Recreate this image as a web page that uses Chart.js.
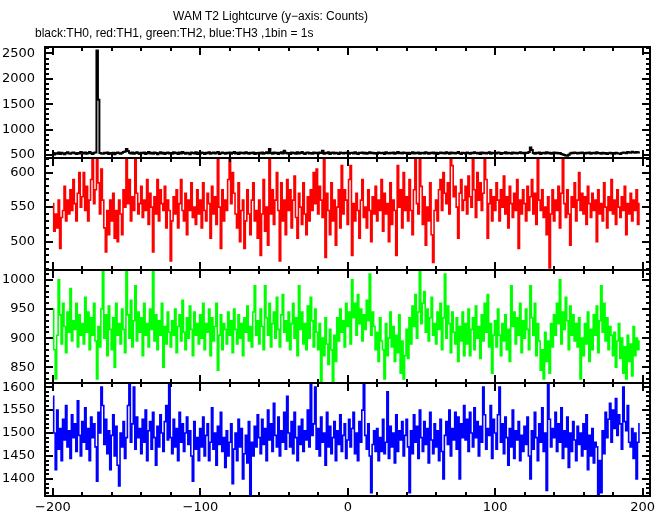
<!DOCTYPE html>
<html>
<head>
<meta charset="utf-8">
<script src="https://cdn.jsdelivr.net/npm/chart.js@4.4.1/dist/chart.umd.min.js"></script>
<style>
    body { margin: 0; background: #fff; }
    #wrap { position: relative; width: 669px; height: 515px; }
    #lc { position: absolute; left: 0; top: 0; }
    .t { position: absolute; font: 12px/12px "Liberation Sans", Arial, sans-serif; white-space: nowrap; color: #000; }
</style>
</head>
<body>
<div id="wrap">
    <canvas id="lc" width="669" height="515"></canvas>
    <div class="t" style="left:173px; top:10px;">WAM T2 Lightcurve (y−axis: Counts)</div>
    <div class="t" style="left:35px; top:27px;">black:TH0, red:TH1, green:TH2, blue:TH3 ,1bin = 1s</div>
</div>
<script>
// 1 bin = 1 s, first bin at t = -200 s
const binStart = -200;

const th0 = [
    540, 510, 535, 525, 550, 520, 545, 530, 515, 540, 555, 530, 525, 545, 550, 535, 520, 540, 530, 560,
    545, 530, 550, 525, 540, 560, 535, 520, 545, 550, 2560, 1590, 540, 530, 525, 545, 535, 550, 520, 540,
    530, 545, 515, 540, 550, 535, 525, 545, 560, 570, 620, 580, 545, 530, 550, 525, 540, 555, 535, 520,
    545, 535, 550, 520, 540, 560, 530, 545, 525, 550, 540, 515, 535, 555, 530, 545, 520, 540, 550, 530,
    540, 525, 555, 535, 545, 520, 550, 530, 560, 540, 525, 545, 535, 515, 550, 540, 530, 555, 520, 545,
    530, 550, 540, 520, 545, 535, 555, 525, 540, 550, 530, 545, 560, 520, 535, 550, 540, 525, 545, 535,
    550, 525, 540, 560, 530, 545, 520, 550, 535, 545, 530, 555, 540, 525, 545, 535, 550, 520, 540, 530,
    545, 530, 550, 525, 540, 555, 535, 620, 540, 525, 550, 535, 545, 520, 540, 555, 530, 585, 545, 530,
    540, 520, 550, 535, 545, 525, 555, 530, 540, 560, 535, 520, 545, 550, 530, 540, 525, 550, 535, 545,
    530, 550, 540, 585, 525, 545, 535, 555, 520, 540, 550, 530, 545, 535, 520, 550, 540, 530, 545, 535,
    550, 525, 540, 545, 530, 555, 535, 520, 545, 540, 550, 530, 545, 525, 540, 555, 535, 545, 530, 540,
    525, 550, 540, 535, 545, 520, 555, 540, 530, 545, 535, 550, 525, 540, 560, 535, 545, 530, 550, 540,
    535, 545, 520, 540, 555, 530, 545, 535, 550, 525, 540, 545, 530, 555, 540, 525, 545, 535, 550, 530,
    545, 520, 540, 550, 535, 545, 530, 555, 540, 525, 550, 535, 545, 530, 540, 560, 535, 520, 545, 540,
    530, 550, 540, 525, 545, 535, 555, 540, 530, 545, 520, 550, 535, 545, 530, 540, 555, 525, 545, 535,
    540, 530, 550, 545, 520, 540, 535, 555, 530, 545, 540, 525, 550, 535, 545, 530, 540, 555, 535, 545,
    530, 545, 540, 560, 650, 600, 540, 525, 545, 535, 550, 520, 540, 545, 530, 555, 535, 545, 525, 540,
    550, 535, 545, 530, 540, 520, 510, 500, 490, 485, 505, 530, 545, 535, 550, 540, 530, 545, 535, 550,
    540, 530, 545, 535, 550, 525, 540, 545, 530, 555, 535, 540, 525, 545, 530, 540, 520, 535, 545, 530,
    540, 525, 545, 535, 530, 520, 540, 550, 545, 535, 560, 550, 545, 565, 555, 545, 560, 550, 555
];

const th1 = [
    555, 515, 540, 520, 560, 490, 535, 545, 580, 530, 560, 540, 575, 545, 590, 555, 530, 570, 600, 550,
    565, 600, 545, 580, 530, 560, 590, 620, 555, 575, 620, 585, 540, 605, 560, 520, 485, 545, 510, 560,
    530, 570, 505, 545, 500, 560, 540, 510, 575, 550, 620, 555, 590, 530, 565, 545, 620, 570, 540, 555,
    580, 535, 560, 545, 590, 525, 570, 550, 485, 565, 540, 590, 530, 575, 555, 545, 580, 520, 560, 545,
    472, 530, 565, 540, 575, 520, 555, 590, 545, 530, 570, 510, 560, 545, 585, 535, 550, 525, 575, 540,
    560, 520, 585, 545, 530, 570, 555, 505, 580, 540, 565, 525, 620, 550, 490, 575, 530, 560, 545, 590,
    620, 555, 600, 570, 540, 520, 585, 500, 545, 560, 490, 530, 575, 540, 510, 560, 585, 530, 545, 505,
    560, 480, 540, 590, 515, 550, 495, 620, 540, 575, 525, 560, 600, 545, 472, 585, 530, 560, 510, 590,
    545, 575, 520, 560, 595, 535, 505, 570, 550, 525, 585, 540, 510, 565, 530, 575, 545, 600, 555, 605,
    540, 580, 560, 535, 620, 477, 570, 545, 510, 585, 530, 560, 495, 550, 575, 520, 610, 540, 575, 560,
    525, 590, 610, 480, 555, 530, 570, 545, 505, 560, 590, 535, 550, 520, 575, 545, 500, 565, 540, 580,
    530, 560, 545, 590, 515, 570, 540, 555, 500, 585, 525, 560, 545, 480, 610, 550, 575, 520, 600, 545,
    565, 530, 590, 545, 510, 575, 620, 555, 540, 620, 580, 525, 565, 495, 550, 530, 585, 510, 470, 545,
    560, 530, 575, 590, 545, 600, 570, 555, 585, 540, 620, 610, 565, 580, 550, 505, 570, 590, 545, 560,
    580, 540, 595, 565, 550, 620, 575, 535, 600, 560, 585, 545, 570, 620, 590, 505, 555, 575, 530, 565,
    545, 585, 560, 530, 575, 550, 595, 540, 565, 520, 580, 555, 535, 570, 545, 590, 490, 560, 540, 575,
    555, 530, 580, 545, 565, 590, 540, 570, 525, 620, 560, 545, 575, 535, 550, 510, 565, 462, 540, 575,
    530, 560, 545, 580, 520, 570, 620, 555, 535, 575, 540, 495, 565, 550, 585, 530, 560, 600, 545, 570,
    540, 565, 525, 580, 555, 535, 570, 545, 560, 500, 575, 540, 555, 530, 585, 550, 520, 565, 545, 590,
    540, 560, 525, 575, 550, 535, 565, 545, 580, 510, 555, 540, 570, 530, 560, 545, 575, 525, 555
];

const th2 = [
    950, 880, 830, 905, 1000, 940, 890, 960, 920, 875, 945, 910, 985, 895, 930, 915, 960, 885, 940, 905,
    925, 890, 970, 910, 945, 880, 935, 905, 960, 895, 830, 920, 885, 950, 1015, 900, 940, 870, 955, 915,
    880, 935, 850, 960, 905, 925, 890, 950, 915, 875, 1015, 940, 900, 965, 885, 930, 990, 895, 945, 910,
    935, 870, 960, 905, 925, 885, 950, 915, 1015, 895, 940, 880, 930, 905, 960, 850, 920, 890, 945, 910,
    885, 930, 905, 950, 875, 920, 940, 895, 965, 910, 880, 935, 900, 955, 915, 870, 945, 905, 925, 890,
    940, 900, 960, 880, 925, 910, 950, 870, 935, 895, 920, 960, 845, 905, 940, 880, 925, 915, 890, 945,
    905, 930, 875, 950, 915, 890, 940, 900, 925, 870, 935, 910, 955, 895, 920, 885, 945, 990, 905, 930,
    890, 950, 920, 880, 990, 935, 905, 960, 885, 925, 945, 900, 970, 915, 885, 940, 975, 910, 930, 895,
    945, 880, 925, 960, 900, 935, 870, 990, 915, 945, 890, 925, 880, 955, 900, 970, 930, 885, 950, 910,
    880, 925, 825, 900, 870, 935, 890, 855, 915, 880, 825, 905, 860, 935, 895, 950, 910, 930, 885, 960,
    920, 945, 890, 1000, 935, 960, 905, 975, 925, 950, 895, 940, 915, 965, 930, 1010, 905, 945, 920, 880,
    910, 860, 935, 895, 880, 830, 925, 870, 900, 945, 885, 920, 860, 905, 875, 940, 840, 895, 830, 870,
    915, 865, 935, 890, 955, 920, 975, 900, 945, 1015, 925, 960, 980, 910, 950, 895, 935, 970, 905, 925,
    890, 945, 915, 960, 880, 935, 1010, 900, 955, 925, 875, 945, 910, 890, 935, 860, 920, 895, 945, 870,
    925, 890, 950, 870, 915, 935, 880, 955, 900, 920, 865, 940, 895, 960, 910, 975, 885, 925, 840, 905,
    930, 885, 950, 905, 870, 925, 895, 940, 880, 915, 860, 990, 920, 945, 890, 935, 905, 960, 875, 930,
    900, 950, 915, 880, 990, 935, 905, 960, 870, 925, 895, 845, 880, 830, 910, 860, 895, 840, 925, 885,
    940, 905, 960, 925, 1000, 890, 945, 915, 970, 930, 880, 955, 905, 940, 895, 925, 885, 935, 830, 900,
    870, 925, 890, 945, 860, 915, 880, 940, 905, 955, 875, 930, 990, 910, 960, 895, 935, 880, 920, 905,
    870, 910, 850, 895, 925, 865, 900, 840, 885, 830, 905, 860, 890, 835, 920, 870, 900, 880, 895
];

const th3 = [
    1580, 1500, 1420, 1550, 1465, 1510, 1440, 1530, 1485, 1560, 1470, 1505, 1445, 1540, 1490, 1520, 1460, 1570, 1495, 1450,
    1525, 1480, 1555, 1465, 1510, 1440, 1535, 1490, 1520, 1470, 1395, 1545, 1500, 1600, 1560, 1475, 1530, 1455, 1505, 1420,
    1495, 1540, 1450, 1515, 1430, 1385, 1500, 1470, 1525, 1445, 1490, 1560, 1605, 1480, 1520, 1600, 1465, 1535, 1490, 1510,
    1455, 1530, 1480, 1550, 1440, 1505, 1525, 1465, 1545, 1490, 1430, 1515, 1470, 1540, 1500, 1460, 1525, 1560, 1485, 1605,
    1490, 1455, 1530, 1470, 1510, 1440, 1545, 1480, 1520, 1460, 1500, 1535, 1475, 1505, 1450, 1395, 1525, 1465, 1490, 1440,
    1510, 1470, 1535, 1450, 1495, 1520, 1440, 1480, 1555, 1465, 1500, 1430, 1515, 1475, 1545, 1460, 1490, 1425, 1505, 1450,
    1480, 1520, 1390, 1465, 1500, 1440, 1530, 1470, 1510, 1400, 1455, 1495, 1435, 1525, 1365, 1480, 1450, 1515, 1470, 1540,
    1490, 1455, 1530, 1475, 1510, 1440, 1550, 1485, 1520, 1460, 1565, 1495, 1470, 1535, 1450, 1505, 1480, 1545, 1465, 1580,
    1500, 1470, 1525, 1455, 1545, 1490, 1440, 1515, 1475, 1530, 1460, 1505, 1485, 1550, 1470, 1605, 1495, 1520, 1600, 1465,
    1510, 1450, 1535, 1480, 1500, 1430, 1545, 1470, 1515, 1455, 1490, 1525, 1440, 1505, 1475, 1540, 1460, 1495, 1520, 1445,
    1485, 1530, 1470, 1510, 1545, 1455, 1500, 1440, 1525, 1480, 1550, 1605, 1495, 1465, 1520, 1450, 1370, 1475, 1505, 1460,
    1510, 1440, 1490, 1460, 1530, 1455, 1480, 1590, 1445, 1515, 1470, 1500, 1435, 1540, 1460, 1505, 1485, 1525, 1450, 1495,
    1530, 1470, 1370, 1505, 1455, 1540, 1480, 1515, 1445, 1550, 1490, 1460, 1525, 1475, 1510, 1435, 1545, 1485, 1455, 1520,
    1470, 1505, 1440, 1530, 1460, 1400, 1495, 1525, 1475, 1550, 1450, 1510, 1485, 1545, 1465, 1535, 1400, 1520, 1490, 1560,
    1485, 1530, 1460, 1545, 1500, 1470, 1555, 1490, 1525, 1450, 1515, 1480, 1600, 1540, 1465, 1510, 1495, 1560, 1445, 1530,
    1500, 1465, 1540, 1600, 1480, 1520, 1455, 1535, 1490, 1430, 1510, 1470, 1550, 1445, 1505, 1485, 1525, 1440, 1495, 1460,
    1515, 1475, 1535, 1450, 1400, 1505, 1465, 1545, 1490, 1440, 1520, 1480, 1555, 1460, 1500, 1375, 1605, 1530, 1470, 1510,
    1490, 1545, 1460, 1520, 1480, 1555, 1445, 1505, 1470, 1535, 1425, 1500, 1460, 1525, 1485, 1440, 1515, 1475, 1500, 1450,
    1520, 1465, 1540, 1420, 1495, 1450, 1510, 1435, 1480, 1470, 1365, 1440, 1370, 1505, 1455, 1545, 1490, 1530, 1565, 1480,
    1550, 1510, 1575, 1495, 1540, 1520, 1465, 1600, 1525, 1505, 1560, 1480, 1470, 1510, 1445, 1500, 1400, 1480, 1520
];

// tick labels
const xTickLabels = [-200, -100, 0, 100, 200];
const th0Ticks = [500, 1000, 1500, 2000, 2500];
const th1Ticks = [500, 550, 600];
const th2Ticks = [850, 900, 950, 1000];
const th3Ticks = [1400, 1450, 1500, 1550, 1600];

// panels from top to bottom
const panels = [
    { id: 'y0', values: th0, ticks: th0Ticks, min: 441, max: 2628, color: '#000000', lw: 2, h: 111, minor: 100, major: 500 },
    { id: 'y1', values: th1, ticks: th1Ticks, min: 459, max: 621, color: '#ff0000', lw: 1.6, h: 112, minor: 10, major: 50 },
    { id: 'y2', values: th2, ticks: th2Ticks, min: 823, max: 1017, color: '#00ff00', lw: 1.6, h: 113, minor: 10, major: 50 },
    { id: 'y3', values: th3, ticks: th3Ticks, min: 1363, max: 1609, color: '#0000ff', lw: 1.6, h: 113, minor: 10, major: 50 }
];

const toPoints = arr => arr.map((v, i) => ({ x: binStart + i, y: v }));
const minus = v => String(v).replace('-', '\u2212');

Chart.defaults.font.family = '"DejaVu Sans", sans-serif';
Chart.defaults.font.size = 13;
Chart.defaults.color = '#000';

const scales = {
    x: {
        type: 'linear',
        position: 'bottom',
        min: -205.4,
        max: 205,
        grid: { display: false, drawTicks: false },
        border: { display: false },
        ticks: { padding: 4, maxRotation: 0, autoSkip: false, callback: minus },
        afterBuildTicks: s => { s.ticks = xTickLabels.map(v => ({ value: v })); },
        afterFit: s => { s.height = 19; }
    }
};
panels.forEach((p, i) => {
    scales[p.id] = {
        type: 'linear',
        position: 'left',
        stack: 'panels',
        stackWeight: p.h,
        weight: panels.length - i,
        min: p.min,
        max: p.max,
        grid: { display: false, drawTicks: false },
        border: { display: false },
        ticks: { padding: 10, autoSkip: false, callback: minus },
        afterBuildTicks: s => { s.ticks = p.ticks.map(v => ({ value: v })); },
        afterFit: s => { s.width = 45; }
    };
});

// clip each series to its own panel, then draw frames and inward ticks
const framePlugin = {
    id: 'frame',
    beforeDatasetDraw(chart, args) {
        const ys = chart.scales[chart.getDatasetMeta(args.index).yAxisID];
        const a = chart.chartArea;
        chart.ctx.save();
        chart.ctx.beginPath();
        chart.ctx.rect(a.left, ys.top, a.right - a.left, ys.bottom - ys.top);
        chart.ctx.clip();
    },
    afterDatasetDraw(chart) {
        chart.ctx.restore();
    },
    afterDraw(chart) {
        const ctx = chart.ctx;
        const a = chart.chartArea;
        const xs = chart.scales.x;
        const line = (x1, y1, x2, y2) => {
            ctx.beginPath();
            ctx.moveTo(x1, y1);
            ctx.lineTo(x2, y2);
            ctx.stroke();
        };
        ctx.save();
        ctx.strokeStyle = '#000';
        ctx.lineWidth = 2;
        panels.forEach(p => {
            const ys = chart.scales[p.id];
            const top = Math.round(ys.top), bottom = Math.round(ys.bottom);
            ctx.strokeRect(a.left, top, a.right - a.left, bottom - top);
            for (let v = -200; v <= 200; v += 20) {
                const px = Math.round(xs.getPixelForValue(v));
                const len = v % 100 === 0 ? 8 : 4;
                line(px, top, px, top + len);
                line(px, bottom, px, bottom - len);
            }
            for (let v = Math.ceil(p.min / p.minor) * p.minor; v <= p.max; v += p.minor) {
                const py = Math.round(ys.getPixelForValue(v));
                const len = v % p.major === 0 ? 8 : 4;
                line(a.left, py, a.left + len, py);
                line(a.right, py, a.right - len, py);
            }
        });
        ctx.restore();
    }
};

const lc = new Chart(document.getElementById('lc').getContext('2d'), {
    type: 'line',
    data: {
        datasets: panels.map(p => ({
            data: toPoints(p.values),
            yAxisID: p.id,
            borderColor: p.color,
            borderWidth: p.lw,
            pointRadius: 0,
            stepped: 'middle',
            fill: false
        }))
    },
    options: {
        responsive: false,
        animation: false,
        events: [],
        layout: { padding: { top: 47, right: 19, bottom: 0, left: 0 } },
        plugins: { legend: { display: false }, tooltip: { enabled: false } },
        scales: scales
    },
    plugins: [framePlugin]
});
</script>
</body>
</html>
